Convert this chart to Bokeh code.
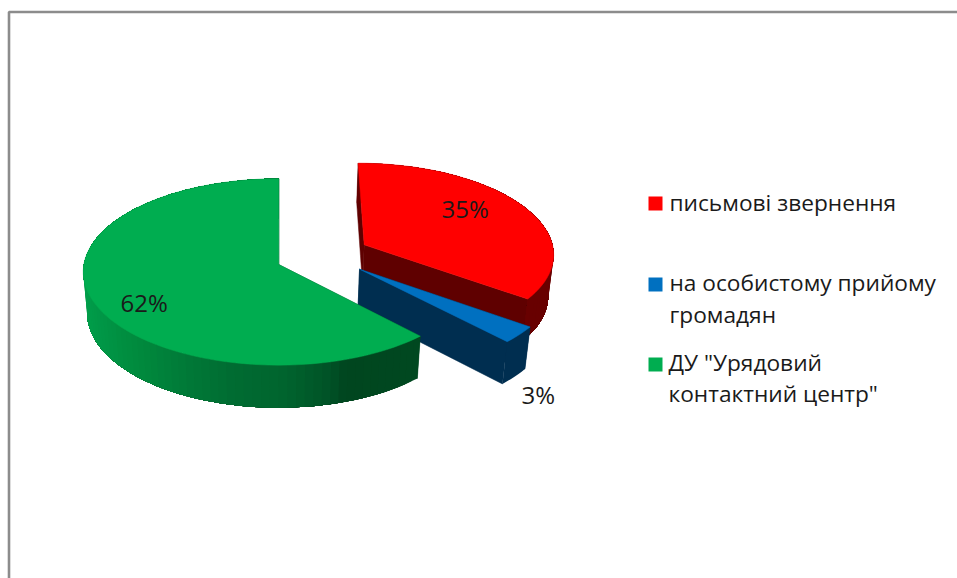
import math
from bokeh.plotting import figure
from bokeh.models import Range1d
from bokeh.core.properties import value
from bokeh.embed import file_html
from bokeh.resources import INLINE

# ---- data ----
categories = ["письмові звернення", "на особистому прийому громадян", 'ДУ "Урядовий контактний центр"']
legend_lines = [["письмові звернення"], ["на особистому прийому", "громадян"], ['ДУ "Урядовий', 'контактний центр"']]
shares = [35, 3, 62]

# ---- styles ----
top_colors = ["#FF0000", "#0070C0", "#00AD50"]
wall_colors = ["#5f0000", "#002E50", "#004A22"]
FONT = "Open Sans"
TEXT_COLOR = "#1a1a1a"
FRAME = "#8c8c8c"

# ---- layout (page pixels) ----
CX, CY = 279.0, 264.0        # centre of the unexploded pie
A, B = 195.4, 92.9           # horizontal / depth scale of the disc
K = 0.0802                   # perspective of the disc
DEPTH, Q = 42.0, 0.02        # thickness and its perspective
explode = [(0.441, -0.215), (0.408, 0.050), (-0.004, 0.0)]   # shift of each slice in disc units
radius = [0.98, 1.0, 0.997]
label_xy = [(441, 208), (521, 394), (120, 302)]
legend_y = [[202], [282, 314], [362, 393]]
swatch_y = [203, 284, 364]
legend_text_x = [669, 669, 668]

# stops (page x, rgb) for the shaded outer wall
green_stops = [(83, (0, 158, 74)), (100, (0, 150, 70)), (130, (0, 140, 62)), (190, (0, 120, 55)),
               (230, (0, 108, 50)), (285, (0, 100, 46)), (330, (0, 82, 38)), (345, (0, 70, 31)),
               (420, (0, 72, 32))]
red_stops = [(350, (100, 0, 0)), (552, (104, 0, 0))]
blue_stops = [(350, (0, 46, 80)), (560, (0, 46, 80))]
wall_stops = [red_stops, blue_stops, green_stops]


def project(u, v, z=0.0):
    w = 1 - K * v + Q * z
    return CX + A * u / w, CY + (B * v + DEPTH * z) / w


def rim(t, off, r, z=0.0):
    return project(off[0] + r * math.sin(t), off[1] - r * math.cos(t), z)


def shade(stops, x):
    if x <= stops[0][0]:
        return stops[0][1]
    for (x0, c0), (x1, c1) in zip(stops, stops[1:]):
        if x <= x1:
            f = (x - x0) / (x1 - x0)
            return tuple(round(a + (b - a) * f) for a, b in zip(c0, c1))
    return stops[-1][1]


def hexc(c):
    return "#%02x%02x%02x" % c


p = figure(width=957, height=578, output_backend="svg", toolbar_location=None,
           x_range=Range1d(0, 957), y_range=Range1d(578, 0),
           min_border=0, outline_line_color=None, background_fill_color="white")
p.axis.visible = False
p.grid.visible = False

# frame
p.line([8.5, 8.5, 957], [578, 11.5, 11.5], line_color=FRAME, line_width=2.6)

# slices, back to front
start = 0.0
bounds = []
for s in shares:
    end = start + s / sum(shares) * 2 * math.pi
    bounds.append((start, end))
    start = end

for i, (t0, t1) in enumerate(bounds):
    off = explode[i]
    r = radius[i]
    n = max(6, int((t1 - t0) * 24))
    ts = [t0 + (t1 - t0) * j / n for j in range(n + 1)]
    ax, ay = project(off[0], off[1])
    bx, by = project(off[0], off[1], 1.0)

    # radial walls
    for t in (t0, t1):
        x0, y0 = rim(t, off, r)
        x1, y1 = rim(t, off, r, 1.0)
        p.patch([ax, x0, x1, bx], [ay, y0, y1, by], fill_color=wall_colors[i],
                line_color=wall_colors[i], line_width=0.5)

    # outer wall: overlapping shaded strips, each reaching to the slice's far end
    # so that no seam shows and the lower edge stays one smooth curve
    for j in range(len(ts) - 1):
        rest = ts[j:]
        upper = [rim(t, off, r) for t in rest]
        lower = [rim(t, off, r, 1.0) for t in reversed(rest)]
        col = hexc(shade(wall_stops[i], (upper[0][0] + upper[1][0]) / 2))
        if i == 2 or j == 0 or wall_stops[i] is red_stops:
            p.patch([q[0] for q in upper + lower], [q[1] for q in upper + lower],
                    fill_color=col, line_color=None)

    # top face
    pts = [rim(t, off, r) for t in ts]
    p.patch([ax] + [q[0] for q in pts], [ay] + [q[1] for q in pts],
            fill_color=top_colors[i], line_color=top_colors[i], line_width=0.5)

# data labels
p.text([q[0] for q in label_xy], [q[1] for q in label_xy], text=[f"{v}%" for v in shares],
       text_font=value(FONT), text_font_size="24px", text_color=TEXT_COLOR,
       text_align="left", text_baseline="alphabetic")

# legend
LEG_SW_X = 655
p.rect([LEG_SW_X] * 3, swatch_y, width=14, height=14, fill_color=top_colors, line_color=None)
for lines, ys, tx in zip(legend_lines, legend_y, legend_text_x):
    p.text([tx] * len(lines), ys, text=lines, text_font=value(FONT), text_font_size="22.7px",
           text_color=TEXT_COLOR, text_align="left", text_baseline="alphabetic")

open("out.html", "w").write(file_html(p, INLINE))
